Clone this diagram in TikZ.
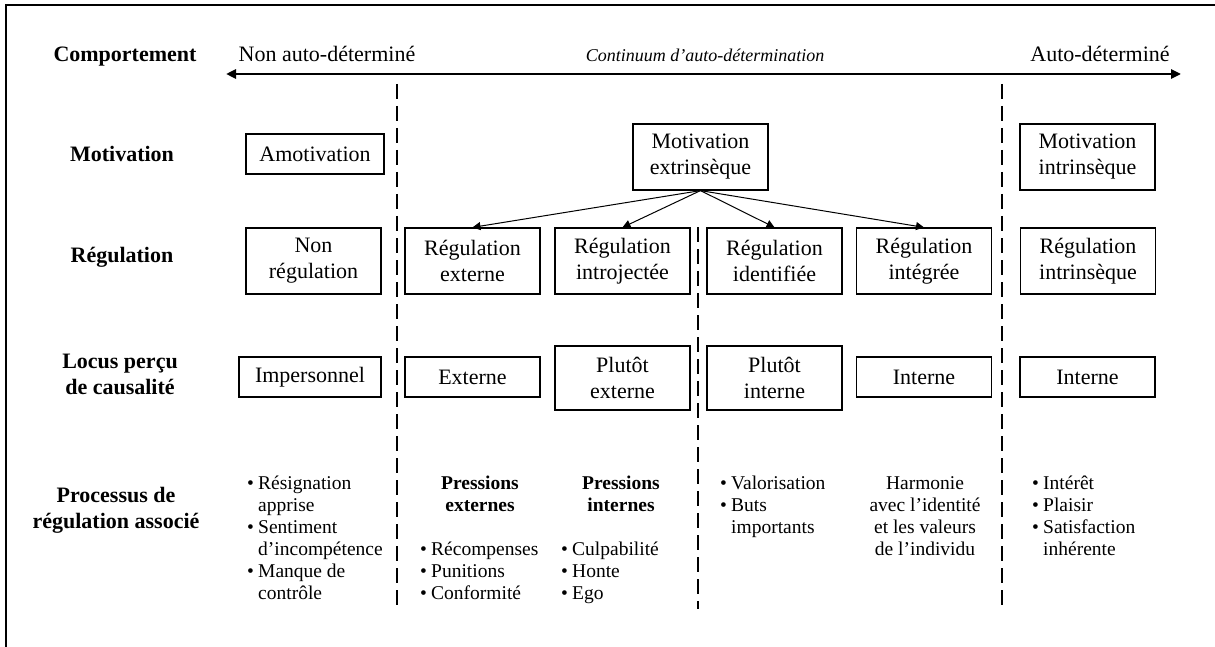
\documentclass[tikz,border=0pt]{standalone}
\usepackage{fontspec}
\setmainfont{Liberation Serif}
\usetikzlibrary{arrows.meta}
\newcommand\mybul{\makebox[11pt][l]{\textbullet}}
\newcommand\myind{\hspace*{11pt}}
\begin{document}
\begin{tikzpicture}[x=1pt,y=-1pt,
  box/.style={draw,line width=1.2pt,inner sep=0pt,align=center,font=\fontsize{22}{26}\selectfont},
  lab/.style={anchor=base,inner sep=0pt,font=\fontsize{22}{26}\selectfont\bfseries},
  top/.style={anchor=base,inner sep=0pt,font=\fontsize{22}{26}\selectfont},
  lst/.style={anchor=base west,inner sep=0pt,font=\fontsize{19.5}{22}\selectfont},
  clst/.style={anchor=base,inner sep=0pt,font=\fontsize{19.5}{22}\selectfont},
  sep/.style={line width=2.2pt,dash pattern=on 15pt off 7pt},
  link/.style={line width=1pt,-{Triangle[length=8pt,width=8pt]}}
]
\useasboundingbox (0,0) rectangle (1215,647);
\fill[white] (0,0) rectangle (1215,647);
% frame
\draw[line width=2pt] (6,647) -- (6,5) -- (1215,5);

% row labels
\node[lab] (lcomp) at (125,62) {Comportement};
\node[lab] (lmot) at (122,162) {Motivation};
\node[lab] (lreg) at (122,262) {Régulation};
\node[lab] (lloc) at (120,368) {\begin{tabular}[t]{@{}c@{}}Locus perçu\\de causalité\end{tabular}};
\node[lab] (lproc) at (116,502) {\begin{tabular}[t]{@{}c@{}}Processus de\\régulation associé\end{tabular}};

% top row
\node[top] (nad) at (327,62) {Non auto-déterminé};
\node[top,font=\fontsize{18}{22}\selectfont\itshape] (cont) at (705,62) {Continuum d’auto-détermination};
\node[top] (ad) at (1100,62) {Auto-déterminé};
\coordinate (aleft) at (226,74);
\coordinate (aright) at (1181,74);
\draw[line width=2.8pt,{Triangle[length=10pt,width=9pt]}-{Triangle[length=10pt,width=9pt]}] (aleft) -- (aright);

% separators
\coordinate (s1t) at (397,84); \coordinate (s1b) at (397,611);
\coordinate (s2t) at (698,227); \coordinate (s2b) at (698,609);
\coordinate (s3t) at (1002,84); \coordinate (s3b) at (1002,611);
\draw[sep] (s1t) -- (s1b);
\draw[sep] (s2t) -- (s2b);
\draw[sep] (s3t) -- (s3b);

% motivation row
\node[box,minimum width=138pt,minimum height=40pt] (amot) at (315,154) {Amotivation};
\node[box,minimum width=135pt,minimum height=66pt] (mext) at (700.5,157) {Motivation\\extrinsèque};
\node[box,minimum width=135pt,minimum height=66pt] (mint) at (1087.5,157) {Motivation\\intrinsèque};

% regulation row
\node[box,minimum width=135pt,minimum height=66pt] (rnon) at (313.5,261) {Non\\régulation};
\node[box,minimum width=135pt,minimum height=66pt] (rext) at (472.5,261) {Régulation\\externe};
\node[box,minimum width=135pt,minimum height=66pt] (rintro) at (622.5,261) {Régulation\\introjectée};
\node[box,minimum width=135pt,minimum height=66pt] (rid) at (774.5,261) {Régulation\\identifiée};
\node[box,minimum width=135pt,minimum height=66pt] (rinteg) at (924,261) {Régulation\\intégrée};
\node[box,minimum width=135pt,minimum height=66pt] (rintr) at (1088,261) {Régulation\\intrinsèque};

\draw[link] (mext.south) -- (rext.north);
\draw[link] (mext.south) -- (rintro.north);
\draw[link] (mext.south) -- (rid.north);
\draw[link] (mext.south) -- (rinteg.north);

% locus row
\node[box,minimum width=142pt,minimum height=40pt] (limp) at (310,377) {Impersonnel};
\node[box,minimum width=135pt,minimum height=40pt] (lext) at (472.5,377) {Externe};
\node[box,minimum width=135pt,minimum height=64pt] (lpext) at (622.5,378) {Plutôt\\externe};
\node[box,minimum width=135pt,minimum height=64pt] (lpint) at (774.5,378) {Plutôt\\interne};
\node[box,minimum width=135pt,minimum height=40pt] (lint) at (924,377) {Interne};
\node[box,minimum width=135pt,minimum height=40pt] (lint2) at (1087.5,377) {Interne};

% processes
\node[lst] (p1) at (247,489) {\begin{tabular}[t]{@{}l@{}}\mybul Résignation\\\myind apprise\\\mybul Sentiment\\\myind d’incompétence\\\mybul Manque de\\\myind contrôle\end{tabular}};
\node[clst,font=\fontsize{19.5}{22}\selectfont\bfseries] (pext) at (480,489) {\begin{tabular}[t]{@{}c@{}}Pressions\\externes\end{tabular}};
\node[lst] (p2) at (420,555) {\begin{tabular}[t]{@{}l@{}}\mybul Récompenses\\\mybul Punitions\\\mybul Conformité\end{tabular}};
\node[clst,font=\fontsize{19.5}{22}\selectfont\bfseries] (pint) at (621,489) {\begin{tabular}[t]{@{}c@{}}Pressions\\internes\end{tabular}};
\node[lst] (p3) at (561,555) {\begin{tabular}[t]{@{}l@{}}\mybul Culpabilité\\\mybul Honte\\\mybul Ego\end{tabular}};
\node[lst] (p4) at (720,489) {\begin{tabular}[t]{@{}l@{}}\mybul Valorisation\\\mybul Buts\\\myind importants\end{tabular}};
\node[clst] (p5) at (925,489) {\begin{tabular}[t]{@{}c@{}}Harmonie\\avec l’identité\\et les valeurs\\de l’individu\end{tabular}};
\node[lst] (p6) at (1032,489) {\begin{tabular}[t]{@{}l@{}}\mybul Intérêt\\\mybul Plaisir\\\mybul Satisfaction\\\myind inhérente\end{tabular}};
\end{tikzpicture}
\end{document}
